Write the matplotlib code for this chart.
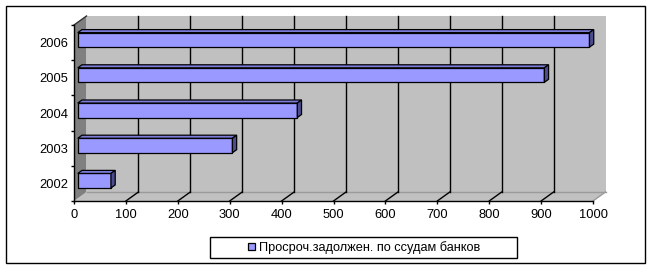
import matplotlib
matplotlib.use('Agg')
import matplotlib.pyplot as plt
from matplotlib.patches import Polygon, Rectangle
from matplotlib.lines import Line2D

# ---- data ----
years = ['2002', '2003', '2004', '2005', '2006']
values = [64, 298, 423, 899, 986]
series_label = 'Просроч.задолжен. по ссудам банков'
x_ticks = [0, 100, 200, 300, 400, 500, 600, 700, 800, 900, 1000]

# ---- style ----
plt.rcParams['font.family'] = ['Liberation Sans', 'DejaVu Sans']
FACE = '#9999FF'
TOP = '#7B7BD8'
SIDE = '#4C4C8E'
WALL = '#C0C0C0'
SIDEWALL = '#808080'

W, H = 651, 268
fig = plt.figure(figsize=(W / 100, H / 100), dpi=100)
fig.patch.set_facecolor('white')

# plot front region in pixels
pl, pr, pt, pb = 74, 593, 25, 201
ax = fig.add_axes([pl / W, 1 - pb / H, (pr - pl) / W, (pb - pt) / H])
ax.set_facecolor('none')
n = len(years)
y0, y1 = -0.5, n - 0.5
ax.set_xlim(0, 1000)
ax.set_ylim(y0, y1)

ux = 1000 / (pr - pl)      # data units per pixel (x)
uy = n / (pb - pt)         # data units per pixel (y)
DX, DY = 12.5 * ux, 9 * uy  # depth of the 3D box

# walls
ax.add_patch(Polygon([(DX, y0 + DY), (1000 + DX, y0 + DY), (1000 + DX, y1 + DY), (DX, y1 + DY)],
                     closed=True, facecolor=WALL, edgecolor='none', zorder=0, clip_on=False))
ax.add_patch(Polygon([(0, y0), (1000, y0), (1000 + DX, y0 + DY), (DX, y0 + DY)],
                     closed=True, facecolor=WALL, edgecolor='none', zorder=0.5, clip_on=False))
ax.add_patch(Polygon([(0, y0), (0, y1), (DX, y1 + DY), (DX, y0 + DY)],
                     closed=True, facecolor=SIDEWALL, edgecolor='none', zorder=0.6, clip_on=False))
ax.add_line(Line2D([0, DX], [y1, y1 + DY], color='#303030', lw=1, zorder=1, clip_on=False))
ax.add_line(Line2D([DX, 1000 + DX], [y0 + DY, y0 + DY], color='#9A9A9A', lw=1, zorder=0.7, clip_on=False))
ax.add_line(Line2D([1000, 1000 + DX], [y0, y0 + DY], color='#9A9A9A', lw=1, zorder=0.7, clip_on=False))

# gridlines on back wall + floor
for v in x_ticks[1:-1]:
    ax.add_line(Line2D([v + DX, v + DX], [y0 + DY, y1 + DY], color='black', lw=1, zorder=1, clip_on=False))
    ax.add_line(Line2D([v, v + DX], [y0, y0 + DY], color='black', lw=1, zorder=1, clip_on=False))

# bars
f1, f2 = 0.30, 0.64
bh = 14.5 * uy
x0 = f1 * DX
ypos = [i + f1 * DY for i in range(n)]
bars = ax.barh(ypos, values, left=x0, height=bh, color=FACE, edgecolor='black',
               linewidth=0.9, zorder=3, label=series_label, clip_on=False)
ddx, ddy = (f2 - f1) * DX, (f2 - f1) * DY
for yc, v in zip(ypos, values):
    yt, yb = yc + bh / 2, yc - bh / 2
    ax.add_patch(Polygon([(x0, yt), (x0 + v, yt), (x0 + v + ddx, yt + ddy), (x0 + ddx, yt + ddy)],
                         closed=True, facecolor=TOP, edgecolor='black', lw=0.9, zorder=3, clip_on=False))
    ax.add_patch(Polygon([(x0 + v, yb), (x0 + v, yt), (x0 + v + ddx, yt + ddy), (x0 + v + ddx, yb + ddy)],
                         closed=True, facecolor=SIDE, edgecolor='black', lw=0.9, zorder=3, clip_on=False))

# axes
for s in ['top', 'right']:
    ax.spines[s].set_visible(False)
for s in ['bottom', 'left']:
    ax.spines[s].set_color('black')
    ax.spines[s].set_linewidth(1)
    ax.spines[s].set_zorder(4)
TICK_FS = 9.3
ax.set_xticks(x_ticks)
ax.set_xticklabels([str(t) for t in x_ticks])
ax.tick_params(axis='x', direction='out', length=2.5, width=1, pad=3, labelsize=TICK_FS, colors='black')
ax.set_yticks([i - 0.5 for i in range(n + 1)])
ax.set_yticklabels([])
ax.set_yticks(list(range(n)), minor=True)
ax.set_yticklabels(years, minor=True)
ax.tick_params(axis='y', which='major', direction='out', length=2.5, width=1)
ax.tick_params(axis='y', which='minor', length=0, pad=4.3, labelsize=TICK_FS)

# legend
leg = ax.legend([bars], [series_label], loc='center', bbox_to_anchor=(364.5 / W, 1 - 247.5 / H),
                bbox_transform=fig.transFigure, frameon=False, handlelength=0.55, handleheight=0.55,
                handletextpad=0.3, fontsize=9.2, borderpad=0)
fig.add_artist(Rectangle((210 / W, 1 - 258 / H), 307 / W, 21 / H, transform=fig.transFigure,
                         fill=False, edgecolor='black', lw=1))
# outer border
fig.add_artist(Rectangle((6 / W, 1 - 263 / H), 639 / W, 257 / H, transform=fig.transFigure,
                         fill=False, edgecolor='black', lw=1))

fig.savefig('out.png', dpi=100)
